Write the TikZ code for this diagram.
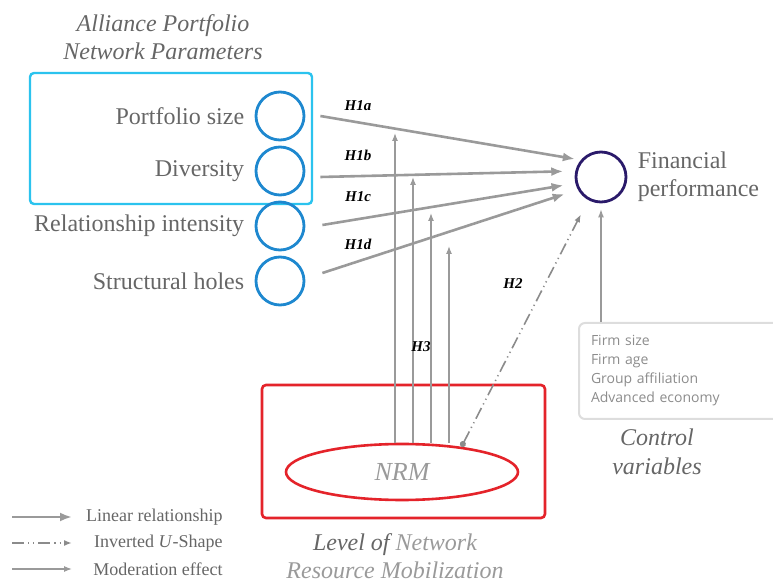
\documentclass[tikz,border=0pt]{standalone}
\usepackage{fontspec}
\setmainfont{Liberation Serif}
\newfontfamily\ctrlfont{Open Sans}
\usepackage{tikz}
\usetikzlibrary{arrows.meta,positioning,shapes.geometric}

\definecolor{txtgray}{HTML}{666666}
\definecolor{txtlight}{HTML}{9A9A9A}
\definecolor{arrgray}{HTML}{9A9A9A}
\definecolor{boxcyan}{HTML}{2BC3EE}
\definecolor{circblue}{HTML}{1E88CF}
\definecolor{perfpurple}{HTML}{2A1A6A}
\definecolor{nrmred}{HTML}{E4232A}
\definecolor{ctrlline}{HTML}{DDDDDD}
\definecolor{ctrltext}{HTML}{8C8C8C}

\begin{document}
\begin{tikzpicture}[x=0.5pt,y=-0.5pt,font=\fontsize{12}{14.2}\selectfont,
  param/.style={circle,draw=circblue,line width=1.4pt,minimum size=24pt,inner sep=0pt},
  caption/.style={align=center,font=\fontsize{12}{14.3}\selectfont\itshape},
  hyp/.style={font=\fontsize{7.5}{9}\selectfont\bfseries\itshape},
  linear/.style={draw=arrgray,line width=1.3pt,-{Latex[length=6pt,width=4.5pt]}},
  moder/.style={draw=arrgray,line width=0.6pt,-{Latex[length=4pt,width=3pt]}},
  invu/.style={draw=arrgray!90!black,line width=0.8pt,
    dash pattern=on 6pt off 2pt on 0.6pt off 2pt on 0.6pt off 2pt,-{Latex[length=4pt,width=3pt]}}]
\useasboundingbox (0,0) rectangle (773,583);

\node[caption,text=txtgray] (apt) at (163,37) {Alliance Portfolio\\Network Parameters};
\draw[boxcyan,line width=1.2pt,rounded corners=2pt] (30,73) rectangle (312,204);
\foreach \nm/\y/\lbl in {ps/116/Portfolio size, dv/171/Diversity, ri/226/Relationship intensity, sh/281/Structural holes} {
  \node[param] (\nm) at (280,\y) {};
  \node[left=5pt of \nm,inner sep=0pt,text=txtgray] {\lbl};
}

\node[circle,draw=perfpurple,line width=1.4pt,minimum size=25pt,inner sep=0pt] (fp) at (601,177) {};
\node[right=5pt of fp,align=left,inner sep=0pt,text=txtgray] (fpl) {Financial\\performance};

\foreach \nm/\dx/\dy/\ang/\gap in {ps/15/0/140/3pt, dv/15/6/167/6pt, ri/17/-1/194/6pt, sh/17/-8/209/7pt}
  \draw[linear,shorten >=\gap] ([shift={(\dx,\dy)}]\nm.east) -- (fp.\ang);
\node[hyp] at (358,106) {H1a};
\node[hyp] at (358,155) {H1b};
\node[hyp] at (358,197) {H1c};
\node[hyp] at (358,244) {H1d};

\draw[nrmred,line width=1.3pt,rounded corners=2pt] (262,385) rectangle (545,518);
\node[ellipse,draw=nrmred,line width=1.3pt,minimum width=116pt,minimum height=28pt,inner sep=0pt,
  font=\fontsize{13}{15}\selectfont\itshape,text=txtlight] (nrm) at (402,472) {NRM};
\node[caption,text=txtlight] (lvl) at (395,556) {\textcolor{txtgray}{Level of} Network\\Resource Mobilization};

\foreach \i/\x/\y in {1/395/133, 2/413/177, 3/431/213, 4/449/246} {
  \coordinate (m\i) at (\x,\y);
  \draw[moder] (nrm.north -| m\i) -- (m\i);
}
\node[hyp] at (421,347) {H3};

\draw[invu,{Circle[length=3pt]}-{Latex[length=4pt,width=3pt]},shorten >=8pt] (nrm.23) -- (fp.241);
\node[hyp] at (513,284) {H2};

\node[draw=ctrlline,line width=1pt,rounded corners=3pt,anchor=north west,text width=100pt,
  minimum height=48pt,inner xsep=6pt,inner ysep=5pt,align=left,
  font=\ctrlfont\fontsize{7}{9.5}\selectfont,text=ctrltext] (ctrl) at (578,322)
  {Firm size\\Firm age\\Group affiliation\\Advanced economy};
\draw[moder,shorten >=3pt] (ctrl.north -| fp) -- (fp.south);
\node[caption,text=txtgray] (cvl) at (657,452) {Control\\variables};

\foreach \i/\y/\sty/\lbl in {1/517/linear/Linear relationship, 2/543/invu/Inverted \textit{U}-Shape, 3/569/moder/Moderation effect} {
  \node[anchor=east,inner sep=0pt,font=\fontsize{9}{11}\selectfont,text=txtgray] (lg\i) at (223,\y) {\lbl};
  \coordinate (ls\i) at (12,\y);
  \coordinate (le\i) at (72,\y);
  \draw[\sty] (ls\i) -- (le\i);
}
\end{tikzpicture}
\end{document}
